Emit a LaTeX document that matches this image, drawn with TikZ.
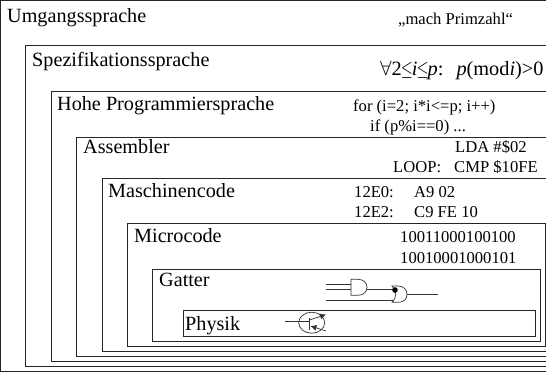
\documentclass[tikz,border=0pt]{standalone}
\usepackage{fontspec}
\usepackage{graphicx}
\usetikzlibrary{arrows.meta}
\setmainfont{Liberation Serif}
\newcommand{\kleingleich}{\hspace{-1pt}\scalebox{0.75}[1]{$\leq$}\hspace{-1pt}}
\tikzset{
  layerbox/.style={draw=black!85, line width=0.9pt},
  layername/.style={anchor=base west, inner sep=0pt, font=\fontsize{20.2}{24}\selectfont},
  codeline/.style={anchor=base west, inner sep=0pt, font=\fontsize{16.6}{20}\selectfont},
  wire/.style={draw=black!80, line width=0.7pt}
}

\begin{document}
\begin{tikzpicture}[x=1pt,y=-1pt]

\useasboundingbox (0,0) rectangle (546,373);
\clip (0,0) rectangle (546,373);

% Nested layers
\draw[layerbox] (0,0) rectangle (560,371.5);
\draw[layerbox] (25,45) rectangle (560,366.5);
\draw[layerbox] (51,91) rectangle (560,361);
\draw[layerbox] (76,137) rectangle (560,356);
\draw[layerbox] (102,178) rectangle (560,351);
\draw[layerbox] (127,223) rectangle (545,346);
\draw[layerbox] (152.5,269) rectangle (540,341);
\draw[layerbox] (183,310) rectangle (535,336);

% Layer names
\node[layername] (umgang) at (7,22) {Umgangssprache};
\node[layername] (spez) at (32,66) {Spezifikationssprache};
\node[layername] (hohe) at (57,110) {Hohe Programmiersprache};
\node[layername] (asm) at (83,153) {Assembler};
\node[layername] (masch) at (108,197) {Maschinencode};
\node[layername] (micro) at (134,242) {Microcode};
\node[layername] (gatter) at (159,286) {Gatter};
\node[layername] (physik) at (185,330) {Physik};

% Examples
\node[codeline] (prim) at (398,24) {„mach Primzahl“};
\node[codeline, font=\fontsize{20.3}{24}\selectfont] (formel) at (380,75)
  {$\forall$2\kleingleich\textit{i}\kleingleich\textit{p}:\hspace{13pt}\textit{p}(mod\textit{i})>0};
\node[codeline] (forz) at (353,111) {for (i=2; i*i<=p; i++)};
\node[codeline] (ifz) at (370,131) {if (p\%i==0) ...};
\node[codeline] (lda) at (455,152) {LDA \#\$02};
\node[codeline] (loop) at (393,172) {LOOP:};
\node[codeline] (cmp) at (454,172) {CMP \$10FE};
\node[codeline] (adra) at (354,197.5) {12E0:};
\node[codeline] (bytea) at (414,197.5) {A9 02};
\node[codeline] (adrb) at (354,217.5) {12E2:};
\node[codeline] (byteb) at (414,217.5) {C9 FE 10};
\node[codeline] (bitsa) at (400,242) {10011000100100};
\node[codeline] (bitsb) at (400,263) {10010001000101};

% Gates
\draw[wire] (326,284.7) -- (351,284.7);
\draw[wire] (326,289.7) -- (351,289.7);
\draw[wire] (326,300) -- (394,300);
\draw[wire] (351,279.3) -- (358,279.3) .. controls (370,279.3) and (370,295.3) .. (358,295.3) -- (351,295.3) -- cycle;
\draw[wire] (367,289.7) -- (395,289.7);
\draw[wire] (392,286) -- (398,286) .. controls (404,286) and (407,290) .. (407,294.5)
  .. controls (407,299) and (404,302.3) .. (398,302.3) -- (392,302.3)
  .. controls (397,297) and (397,291) .. (392,286) -- cycle;
\fill[black] (395,290) circle (2.8pt);
\draw[wire] (407,294.7) -- (438,294.7);

% Transistor
\draw[wire] (311.7,322.7) ellipse (13pt and 10.5pt);
\draw[wire] (285,321.7) -- (309.5,321.7);
\draw[wire, line width=0.9pt] (309.5,318) -- (309.5,330);
\draw[wire, -{Latex[length=6pt,width=6pt]}] (309.5,320) -- (326,314.5);
\draw[wire, {Latex[length=6pt,width=6pt]}-] (310.5,326) -- (326,331);

\end{tikzpicture}
\end{document}
